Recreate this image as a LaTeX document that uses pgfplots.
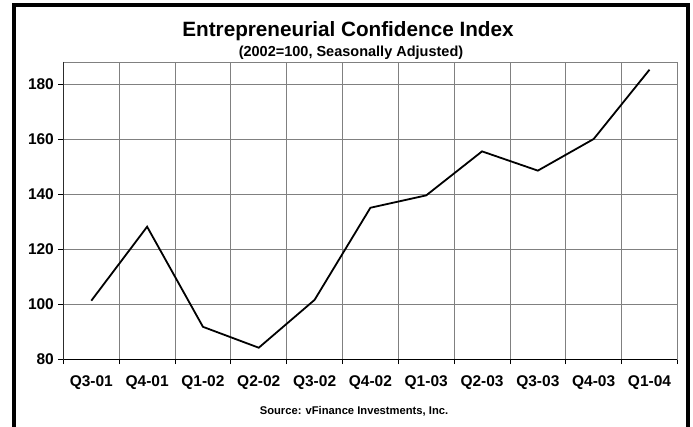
\documentclass[border=0pt]{standalone}
\usepackage{pgfplots}
\pgfplotsset{compat=1.18}
\usepackage{fontspec}
\setmainfont{Liberation Sans}
\begin{document}
\begin{tikzpicture}[x=1pt,y=1pt]
\path[use as bounding box,fill=white] (0,0) rectangle (693,426);
\begin{scope}
\clip (0,0) rectangle (693,426);
\draw[line width=4pt,black] (14,-20) -- (14,421) -- (688,421) -- (688,-20);
\end{scope}
\begin{axis}[
  at={(63.4pt,67pt)}, anchor=south west,
  scale only axis, width=614pt, height=297pt,
  xmin=-0.5, xmax=10.5, ymin=80, ymax=188,
  xtick={0,...,10},
  xticklabels={Q3-01,Q4-01,Q1-02,Q2-02,Q3-02,Q4-02,Q1-03,Q2-03,Q3-03,Q4-03,Q1-04},
  minor xtick={-0.5,0.5,...,10.5},
  ytick={80,100,...,180},
  xtick pos=left, ytick pos=left,
  tick align=outside, major tick length=5pt, minor tick length=5pt,
  major x tick style={draw=none},
  tick style={black, line width=0.8pt},
  xminorgrids=true, ymajorgrids=true,
  minor grid style={gray, line width=0.8pt},
  major grid style={gray, line width=0.8pt},
  axis line style={gray, line width=0.8pt},
  /pgf/number format/assume math mode=true,
  ticklabel style={font=\bfseries\fontsize{15.5}{17}\selectfont},
  xticklabel style={yshift=-8pt},
  yticklabel style={xshift=-1pt},
]
\addplot[black, line width=1.8pt] coordinates {
(0,101.2) (1,128.1) (2,91.7) (3,84.1) (4,101.5) (5,135) (6,139.5) (7,155.5) (8,148.5) (9,160) (10,185.2)
};
\draw[black, line width=0.9pt] (rel axis cs:0,1) -- (rel axis cs:0,0) -- (rel axis cs:1,0);
\end{axis}
\node[anchor=base, font=\bfseries\fontsize{20.7}{22}\selectfont] at (348,389.3) {Entrepreneurial Confidence Index};
\node[anchor=base, font=\bfseries\fontsize{14.5}{16}\selectfont] at (351,369) {(2002=100, Seasonally Adjusted)};
\node[anchor=base, font=\bfseries\fontsize{11.2}{13}\selectfont] at (354,12) {Source: vFinance Investments, Inc.};
\end{tikzpicture}
\end{document}
